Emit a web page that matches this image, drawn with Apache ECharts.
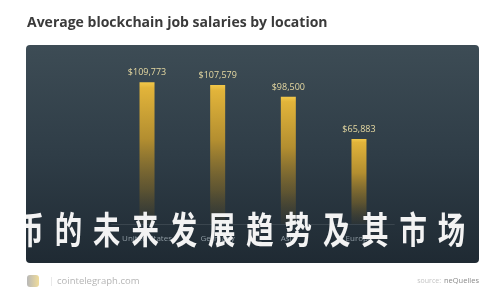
<!DOCTYPE html>
<html>
<head>
<meta charset="utf-8">
<script src="https://cdn.jsdelivr.net/npm/echarts@6/dist/echarts.min.js"></script>
<style>
html,body{margin:0;padding:0;background:#fff;}
#chart{width:500px;height:300px;}
</style>
</head>
<body>
<div id="chart"></div>
<script>
const titleText = 'Average blockchain job salaries by location';
const categories = ['United States', 'Germany', 'Asia', 'Europe'];
const salaries = [109773, 107579, 98500, 65883];
const overlayText = '币的未来发展趋势及其市场';
const siteText = 'cointelegraph.com';
const sourceLabel = 'source:';
const sourceName = 'neQuelles';

const chart = echarts.init(document.getElementById('chart'), null, {renderer: 'canvas'});

const fmt = v => '$' + v.toLocaleString('en-US');

// overlay characters laid out with the reference's wide spacing
const overlayChars = Array.from(overlayText).map((ch, i) => ({
  type: 'text', z: 20, silent: true,
  x: 30.2 + i * 38.3, y: 230,
  scaleX: 0.74,
  style: {
    x: 0, y: 0, text: ch,
    fill: '#f3f3f3', font: 'bold 37px "Noto Sans CJK SC", sans-serif',
    textAlign: 'center', textVerticalAlign: 'middle',
    shadowColor: 'rgba(0,0,0,0.55)', shadowBlur: 2
  }
}));

chart.setOption({
  backgroundColor: '#ffffff',
  animation: false,
  grid: {left: 111.7, right: 105.7, top: 69, bottom: 76},
  xAxis: {
    type: 'category',
    data: categories,
    axisLine: {show: true, lineStyle: {color: 'rgba(255,255,255,0.10)'}},
    axisTick: {show: false},
    axisLabel: {color: '#8f9ba3', fontSize: 8, fontFamily: 'Open Sans', margin: 11}
  },
  yAxis: {
    type: 'value',
    min: 0,
    max: 120000,
    show: false,
    splitLine: {show: false}
  },
  graphic: [
    {
      type: 'rect', z: -10, silent: true,
      shape: {x: 26, y: 45, width: 453, height: 218, r: 4},
      style: {
        fill: new echarts.graphic.LinearGradient(0, 0, 0, 1, [
          {offset: 0, color: '#3d4c55'},
          {offset: 0.5, color: '#2f3d47'},
          {offset: 1, color: '#1f2a33'}
        ])
      }
    },
    {
      type: 'text', z: 10, silent: true,
      style: {
        x: 27, y: 23, text: titleText,
        fill: '#3a3a3a', font: 'bold 14px "Open Sans", sans-serif',
        textVerticalAlign: 'middle'
      }
    }
  ].concat(overlayChars, [
    {
      type: 'rect', z: 30, silent: true,
      shape: {x: 0, y: 195, width: 26, height: 70},
      style: {fill: '#ffffff'}
    },
    {
      type: 'rect', z: 30, silent: true,
      shape: {x: 479, y: 195, width: 21, height: 70},
      style: {fill: '#ffffff'}
    },
    {
      type: 'rect', z: 10, silent: true,
      shape: {x: 27, y: 275, width: 12, height: 12, r: 3},
      style: {
        fill: new echarts.graphic.LinearGradient(0, 0, 1, 0, [
          {offset: 0, color: '#b8b8b8'},
          {offset: 1, color: '#f0dc9a'}
        ])
      }
    },
    {
      type: 'text', z: 10, silent: true,
      style: {x: 49, y: 281, text: '|', fill: '#dddddd', font: '9px "Open Sans", sans-serif', textVerticalAlign: 'middle'}
    },
    {
      type: 'text', z: 10, silent: true,
      style: {x: 57, y: 281, text: siteText, fill: '#b5b5b5', font: '9.5px "Open Sans", sans-serif', textVerticalAlign: 'middle'}
    },
    {
      type: 'text', z: 10, silent: true,
      style: {x: 479, y: 281, text: sourceName, fill: '#8a8a8a', font: '7.5px "Open Sans", sans-serif', textAlign: 'right', textVerticalAlign: 'middle'}
    },
    {
      type: 'text', z: 10, silent: true,
      style: {x: 441, y: 281, text: sourceLabel, fill: '#c4c4c4', font: '7px "Open Sans", sans-serif', textAlign: 'right', textVerticalAlign: 'middle'}
    }
  ]),
  series: [{
    type: 'bar',
    data: salaries,
    barWidth: 15,
    itemStyle: {
      color: new echarts.graphic.LinearGradient(0, 0, 0, 1, [
        {offset: 0, color: '#f2c84a'},
        {offset: 0.04, color: '#e2b43a'},
        {offset: 0.4, color: '#b38e30'},
        {offset: 0.75, color: 'rgba(130,105,40,0.6)'},
        {offset: 1, color: 'rgba(90,75,35,0.12)'}
      ])
    },
    label: {
      show: true,
      position: 'top',
      distance: 5,
      formatter: p => fmt(p.value),
      color: '#e6d9a2',
      fontSize: 9,
      fontFamily: 'Open Sans'
    }
  }]
});
</script>
</body>
</html>
